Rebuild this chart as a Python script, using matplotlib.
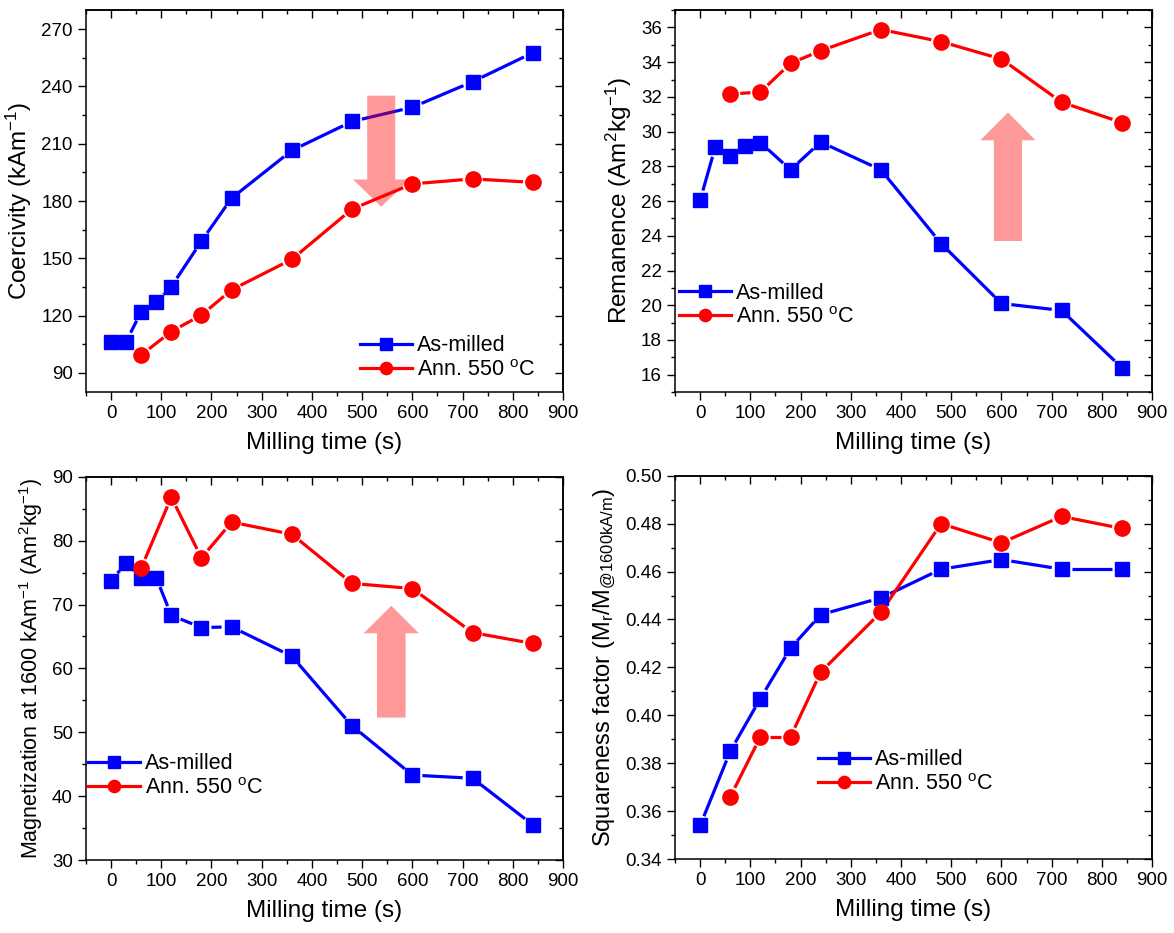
import numpy as np
import matplotlib
matplotlib.use("Agg")
import matplotlib.pyplot as plt
from matplotlib.lines import Line2D
from matplotlib.ticker import MultipleLocator, FormatStrFormatter

plt.rcParams.update({
    "font.family": ["Liberation Sans", "DejaVu Sans"],
    "mathtext.fontset": "custom",
    "mathtext.rm": "Liberation Sans",
    "mathtext.it": "Liberation Sans:italic",
    "mathtext.bf": "Liberation Sans:bold",
    "axes.linewidth": 1.1,
})

# |>- Data -<|

time_milled = [0, 30, 60, 90, 120, 180, 240, 360, 480, 600, 720, 840]
time_ann = [60, 120, 180, 240, 360, 480, 600, 720, 840]
time_sq = [0, 60, 120, 180, 240, 360, 480, 600, 720, 840]

coer_milled = [106.4, 106.4, 122.0, 127.4, 135.2, 159.0, 181.5, 206.5, 221.7, 229.1, 242.5, 257.7]
coer_ann = [99.4, 111.7, 120.3, 133.5, 149.5, 175.8, 189.0, 191.6, 189.8]

rem_milled = [26.05, 29.1, 28.6, 29.2, 29.37, 27.8, 29.4, 27.8, 23.55, 20.1, 19.7, 16.4]
rem_ann = [32.16, 32.28, 33.93, 34.66, 35.88, 35.18, 34.18, 31.69, 30.52]

mag_milled = [73.7, 76.5, 74.2, 74.2, 68.3, 66.4, 66.5, 61.9, 51.0, 43.3, 42.8, 35.5]
mag_ann = [75.7, 86.8, 77.3, 82.9, 81.0, 73.3, 72.5, 65.6, 63.9]

sq_milled = [0.354, 0.385, 0.407, 0.428, 0.442, 0.449, 0.461, 0.465, 0.461, 0.461]
sq_ann = [0.366, 0.391, 0.391, 0.418, 0.443, 0.480, 0.472, 0.483, 0.478]

label_milled = "As-milled"
label_ann = "Ann. 550 $^{\\mathrm{o}}$C"

BLUE = "#0000ff"
RED = "#ff0000"

# |>- Panel setup -<|

panels = [
    dict(pos=[0.0732, 0.5798, 0.4064, 0.4094],
         x1=time_milled, y1=coer_milled, x2=time_ann, y2=coer_ann,
         ylim=(80, 280), major=30, minor=15, fmt="%d",
         ylabel="Coercivity (kAm$^{-1}$)", ylabel_size=17.5,
         legend=(0.575, 0.030),
         arrow=dict(x=538, y0=235.2, y1=177.0, width=56, head_width=112, head_length=14.3)),
    dict(pos=[0.5750, 0.5798, 0.4063, 0.4094],
         x1=time_milled, y1=rem_milled, x2=time_ann, y2=rem_ann,
         ylim=(15, 37), major=2, minor=1, fmt="%d",
         ylabel="Remanence (Am$^{2}$kg$^{-1}$)", ylabel_size=17.5,
         legend=(0.008, 0.168),
         arrow=dict(x=613, y0=23.7, y1=31.1, width=56, head_width=110, head_length=1.6)),
    dict(pos=[0.0732, 0.0782, 0.4064, 0.4108],
         x1=time_milled, y1=mag_milled, x2=time_ann, y2=mag_ann,
         ylim=(30, 90), major=10, minor=5, fmt="%d",
         ylabel="Magnetization at 1600 kAm$^{-1}$ (Am$^{2}$kg$^{-1}$)", ylabel_size=15.5,
         legend=(0.005, 0.160),
         arrow=dict(x=558, y0=52.3, y1=69.8, width=57, head_width=110, head_length=4.3)),
    dict(pos=[0.5750, 0.0793, 0.4063, 0.4108],
         x1=time_sq, y1=sq_milled, x2=time_ann, y2=sq_ann,
         ylim=(0.34, 0.50), major=0.02, minor=0.01, fmt="%.2f",
         ylabel="Squareness factor (M$_{\\mathrm{r}}$/M$_{\\mathrm{@1600kA/m}}$)", ylabel_size=17,
         legend=(0.300, 0.168),
         arrow=None),
]


def gapped_line(ax, x, y, color, gap=10.0):
    # Origin style: line stops short of each marker
    pts = ax.transData.transform(np.column_stack([x, y]))
    inv = ax.transData.inverted()
    for p0, p1 in zip(pts[:-1], pts[1:]):
        d = p1 - p0
        length = np.hypot(d[0], d[1])
        if length <= 2 * gap:
            continue
        u = d / length
        seg = inv.transform(np.array([p0 + u * gap, p1 - u * gap]))
        ax.plot(seg[:, 0], seg[:, 1], color=color, lw=2.3, solid_capstyle="butt", zorder=2)


fig = plt.figure(figsize=(11.74, 9.33), dpi=100)

for p in panels:
    ax = fig.add_axes(p["pos"])
    ax.set_xlim(-50, 900)
    ax.set_ylim(*p["ylim"])

    ax.xaxis.set_major_locator(MultipleLocator(100))
    ax.xaxis.set_minor_locator(MultipleLocator(50))
    ax.yaxis.set_major_locator(MultipleLocator(p["major"]))
    ax.yaxis.set_minor_locator(MultipleLocator(p["minor"]))
    ax.yaxis.set_major_formatter(FormatStrFormatter(p["fmt"]))
    ax.tick_params(which="both", direction="out", labelsize=13.5, width=1.0, pad=3.5)
    ax.tick_params(which="major", length=6)
    ax.tick_params(which="minor", length=3)

    # mirrored ticks pointing inward on top and right
    top = ax.secondary_xaxis("top")
    top.xaxis.set_major_locator(MultipleLocator(100))
    top.xaxis.set_minor_locator(MultipleLocator(50))
    top.tick_params(which="both", direction="in", labeltop=False, width=1.0)
    top.tick_params(which="major", length=6)
    top.tick_params(which="minor", length=3)
    right = ax.secondary_yaxis("right")
    right.yaxis.set_major_locator(MultipleLocator(p["major"]))
    right.yaxis.set_minor_locator(MultipleLocator(p["minor"]))
    right.tick_params(which="both", direction="in", labelright=False, width=1.0)
    right.tick_params(which="major", length=6)
    right.tick_params(which="minor", length=3)

    # lines and markers
    gapped_line(ax, p["x1"], p["y1"], BLUE)
    gapped_line(ax, p["x2"], p["y2"], RED)
    ax.plot(p["x1"], p["y1"], ls="none", marker="s", ms=10, color=BLUE, mec=BLUE, zorder=3)
    ax.plot(p["x2"], p["y2"], ls="none", marker="o", ms=11, color=RED, mec=RED, zorder=3)

    # translucent trend arrow
    a = p["arrow"]
    if a is not None:
        ax.arrow(a["x"], a["y0"], 0, a["y1"] - a["y0"], width=a["width"],
                 head_width=a["head_width"], head_length=a["head_length"],
                 length_includes_head=True, color=RED, alpha=0.4, lw=0, zorder=4)

    handles = [
        Line2D([], [], color=BLUE, lw=2.3, marker="s", ms=10, label=label_milled),
        Line2D([], [], color=RED, lw=2.3, marker="o", ms=11, label=label_ann),
    ]
    ax.legend(handles=handles, loc="lower left", bbox_to_anchor=p["legend"], frameon=False,
              fontsize=15.5, handlelength=2.4, handletextpad=0.25, labelspacing=0.15,
              borderpad=0, borderaxespad=0, markerscale=0.8)

    ax.set_xlabel("Milling time (s)", fontsize=17.5, labelpad=7)
    ax.set_ylabel(p["ylabel"], fontsize=p["ylabel_size"], labelpad=5)

fig.savefig("out.png", dpi=100)
